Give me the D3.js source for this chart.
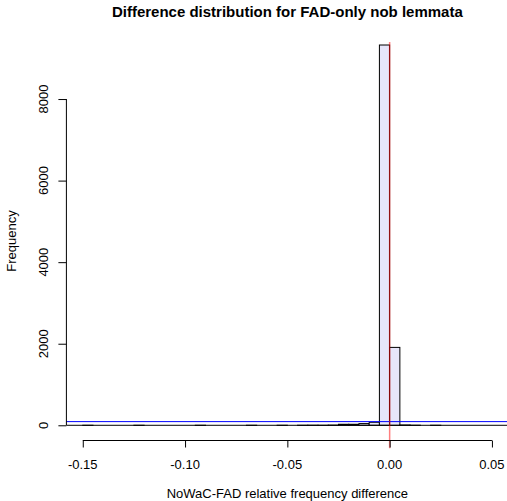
<!DOCTYPE html>
<html>
<head>
<meta charset="utf-8">
<script src="https://cdn.jsdelivr.net/npm/d3@7"></script>
<style>
  html, body { margin: 0; padding: 0; background: #fff; }
  svg { display: block; font-family: "Liberation Sans", Arial, Helvetica, sans-serif; }
</style>
</head>
<body>
<svg id="chart" width="507" height="501"></svg>
<script>
// Histogram bin edges (width 0.005) and the count in each bin
const breaks = d3.range(0, 41).map(i => +(-0.15 + i * 0.005).toFixed(3));
const counts = [
  1, 0, 0, 0, 0, 1, 0, 0, 0, 0,
  0, 1, 0, 0, 0, 0, 1, 0, 0, 1,
  0, 1, 2, 1, 5, 25, 25, 42, 74, 9325,
  1910, 8, 2, 0, 1, 0, 0, 0, 0, 0
];
const xTicks = [-0.15, -0.10, -0.05, 0.00, 0.05];
const xTickLabels = ["-0.15", "-0.10", "-0.05", "0.00", "0.05"];
const yTicks = [0, 2000, 4000, 6000, 8000];
const yTickLabels = ["0", "2000", "4000", "6000", "8000"];
const refLineV = { x: 0, y0: -560, y1: 9400 };   // red marker at zero difference
const refLineH = [0, 90];                         // black and blue horizontal guides

const titleText = "Difference distribution for FAD-only nob lemmata";
const xLabel = "NoWaC-FAD relative frequency difference";
const yLabel = "Frequency";

const bins = counts.map((c, i) => ({ x0: breaks[i], x1: breaks[i + 1], count: c }));

// Plot region, with 4% padding around the data ranges
const plot = { left: 66.4, right: 508.3, top: 29.8, bottom: 440.5 };
const xr = [breaks[0], breaks[breaks.length - 1]];
const xPad = 0.04 * (xr[1] - xr[0]);
const yMax = d3.max(counts);
const yPad = 0.04 * yMax;

const x = d3.scaleLinear().domain([xr[0] - xPad, xr[1] + xPad]).range([plot.left, plot.right]);
const y = d3.scaleLinear().domain([-yPad, yMax + yPad]).range([plot.bottom, plot.top]);

const svg = d3.select("#chart");

// Bars
svg.append("g").selectAll("rect").data(bins).join("rect")
  .attr("x", d => x(d.x0))
  .attr("y", d => y(d.count))
  .attr("width", d => x(d.x1) - x(d.x0))
  .attr("height", d => y(0) - y(d.count))
  .attr("fill", "#E6E6FA")
  .attr("stroke", "#000")
  .attr("stroke-width", 1);

// Horizontal guides across the plot region
svg.append("line")
  .attr("x1", plot.left).attr("x2", plot.right)
  .attr("y1", y(refLineH[0])).attr("y2", y(refLineH[0]))
  .attr("stroke", "#000").attr("stroke-width", 1);
svg.append("line")
  .attr("x1", plot.left).attr("x2", plot.right)
  .attr("y1", y(refLineH[1])).attr("y2", y(refLineH[1]))
  .attr("stroke", "#0000ff").attr("stroke-width", 1);

// Vertical marker at zero
svg.append("line")
  .attr("x1", x(refLineV.x)).attr("x2", x(refLineV.x))
  .attr("y1", y(refLineV.y1)).attr("y2", y(refLineV.y0))
  .attr("stroke", "rgba(255,0,0,0.5)").attr("stroke-width", 1.5);

// X axis: line and ticks from the axis generator, labels set below
const gx = svg.append("g").attr("transform", `translate(0,${plot.bottom})`)
  .call(d3.axisBottom(x).tickValues(xTicks).tickSize(7).tickFormat(""));
gx.select(".domain").attr("d", `M${x(xTicks[0])},0H${x(xTicks[xTicks.length - 1])}`);
gx.selectAll("text").remove();
svg.append("g").selectAll("text").data(xTicks).join("text")
  .attr("x", d => x(d)).attr("y", 468.5)
  .attr("text-anchor", "middle").attr("font-size", 13).attr("fill", "#000")
  .text((d, i) => xTickLabels[i]);

// Y axis
const gy = svg.append("g").attr("transform", `translate(${plot.left},0)`)
  .call(d3.axisLeft(y).tickValues(yTicks).tickSize(8).tickFormat(""));
gy.select(".domain").attr("d", `M0,${y(yTicks[0])}V${y(yTicks[yTicks.length - 1])}`);
gy.selectAll("text").remove();
svg.append("g").selectAll("text").data(yTicks).join("text")
  .attr("transform", d => `translate(47.5,${y(d)}) rotate(-90)`)
  .attr("text-anchor", "middle").attr("font-size", 13).attr("fill", "#000")
  .text((d, i) => yTickLabels[i]);

// Titles
svg.append("text")
  .attr("x", (plot.left + plot.right) / 2).attr("y", 17)
  .attr("text-anchor", "middle").attr("font-weight", "bold").attr("font-size", 15)
  .text(titleText);
svg.append("text")
  .attr("x", (plot.left + plot.right) / 2).attr("y", 497.5)
  .attr("text-anchor", "middle").attr("font-size", 13)
  .text(xLabel);
svg.append("text")
  .attr("transform", `translate(16,241) rotate(-90)`)
  .attr("text-anchor", "middle").attr("font-size", 13)
  .text(yLabel);
</script>
</body>
</html>
